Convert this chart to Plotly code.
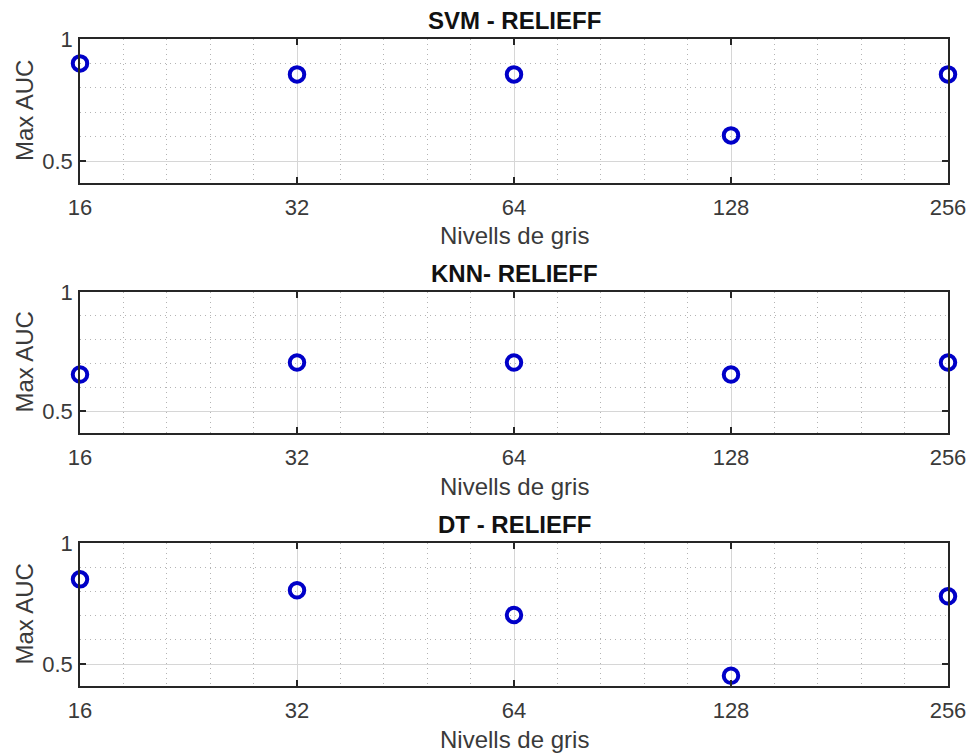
import numpy as np
import plotly.graph_objects as go

levels = [16, 32, 64, 128, 256]
tick_labels = ["16", "32", "64", "128", "256"]
svm_auc = [0.90, 0.855, 0.855, 0.605, 0.855]
knn_auc = [0.655, 0.705, 0.705, 0.655, 0.705]
dt_auc = [0.85, 0.805, 0.703, 0.452, 0.78]
titles = ["SVM - RELIEFF", "KNN- RELIEFF", "DT - RELIEFF"]
series = [svm_auc, knn_auc, dt_auc]

W, H = 972, 755
xl, xr = 80, 948
panels_px = [(39, 183), (292, 433), (543, 686)]  # top, bottom in px

xpos = np.log2(levels)
fig = go.Figure()
FONT = "Liberation Sans, Arial, sans-serif"
TXT = "#3a3a3a"
annotations = []

for i, (vals, title, (pt, pb)) in enumerate(zip(series, titles, panels_px)):
    n = "" if i == 0 else str(i + 1)
    xa, ya = "x" + n, "y" + n
    fig.add_trace(go.Scatter(
        x=xpos, y=vals, mode="markers", xaxis=xa, yaxis=ya, showlegend=False,
        marker=dict(symbol="circle-open", size=14.5, color="#0000c8",
                    line=dict(width=4, color="#0000c8")),
        cliponaxis=False,
    ))
    ydom = [1 - pb / H, 1 - pt / H]
    common_grid = dict(showline=True, linecolor="#262626", linewidth=1.5, mirror="ticks",
                       ticks="inside", ticklen=6, tickcolor="#262626", tickwidth=1.5,
                       showgrid=True, gridcolor="#d6d6d6", gridwidth=1, zeroline=False,
                       automargin=False,
                       tickfont=dict(family=FONT, size=22, color=TXT), fixedrange=True)
    fig.layout["xaxis" + n] = dict(
        domain=[xl / W, xr / W], anchor=ya, range=[4, 8],
        tickmode="array", tickvals=list(xpos), ticktext=tick_labels,
        ticklabelstandoff=4,
        minor=dict(tickmode="linear", tick0=4, dtick=0.2, showgrid=True,
                   gridcolor="#b4b4b4", griddash="1px,4px", gridwidth=1, ticks=""),
        **common_grid)
    fig.layout["yaxis" + n] = dict(
        domain=ydom, anchor=xa, range=[0.41, 1],
        tickmode="array", tickvals=[0.5, 1], ticktext=["0.5", "1"],
        ticklabelstandoff=1,
        minor=dict(tickmode="linear", tick0=0.4, dtick=0.1, showgrid=True,
                   gridcolor="#b4b4b4", griddash="1px,4px", gridwidth=1, ticks=""),
        **common_grid)
    # title
    annotations.append(dict(text="<b>" + title + "</b>", x=(xl + xr) / 2 / W, y=1 - (pt - 19) / H,
                            xref="paper", yref="paper", showarrow=False, xanchor="center",
                            yanchor="middle", font=dict(family=FONT, size=24, color="#111111")))
    # x axis title
    annotations.append(dict(text="Nivells de gris", x=(xl + xr) / 2 / W, y=1 - (pb + 53) / H,
                            xref="paper", yref="paper", showarrow=False, xanchor="center",
                            yanchor="middle", font=dict(family=FONT, size=24, color=TXT)))
    # y axis title
    annotations.append(dict(text="Max AUC", x=24 / W, y=1 - ((pt + pb) / 2) / H,
                            xref="paper", yref="paper", showarrow=False, xanchor="center",
                            yanchor="middle", textangle=-90,
                            font=dict(family=FONT, size=24, color=TXT)))

fig.update_layout(width=W, height=H, margin=dict(l=0, r=0, t=0, b=0),
                  paper_bgcolor="white", plot_bgcolor="white", annotations=annotations)
fig.write_html("out.html")
